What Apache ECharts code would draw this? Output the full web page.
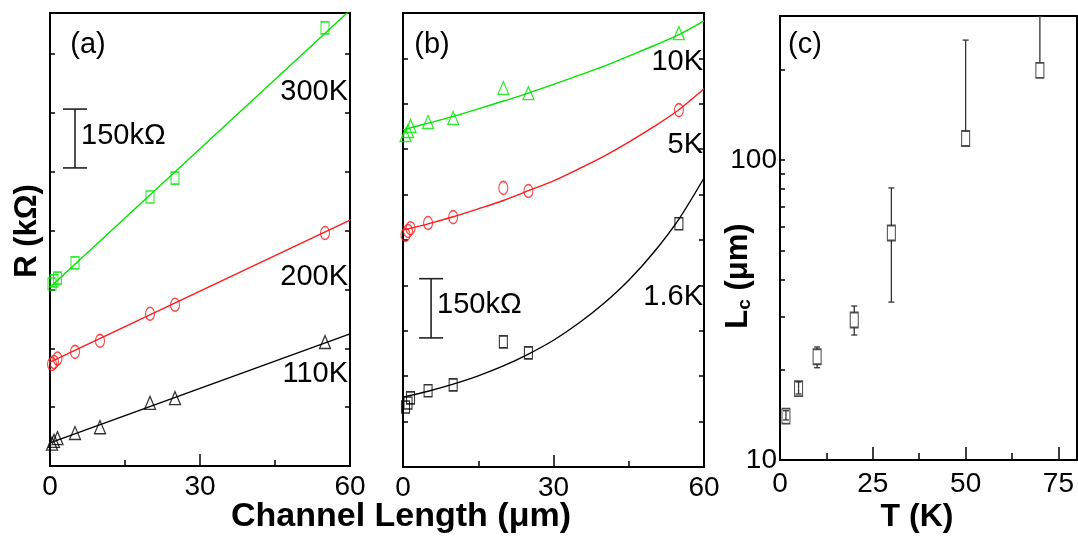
<!DOCTYPE html>
<html>
<head>
<meta charset="utf-8">
<script src="https://cdn.jsdelivr.net/npm/echarts@6/dist/echarts.min.js"></script>
<style>
  html, body { margin: 0; padding: 0; background: #fff; }
  #chart { width: 1078px; height: 538px; }
</style>
</head>
<body>
<div id="chart"></div>
<script>
// ---- (a) resistance vs channel length at high temperature (kΩ) ----
const lenA300 = [0.4, 0.8, 1.5, 5, 20, 25, 55];
const r300K = [464, 472, 479, 518, 686, 734, 1117];
const lenA = [0.4, 0.8, 1.5, 5, 10, 20, 25, 55];
const r200K = [260, 265, 274, 291, 319, 388, 411, 594];
const r110K = [57, 64, 71, 84, 99, 161, 173, 316];
// linear fits
const fitLenA = [0, 60];
const fit300K = [456, 1162];
const fit200K = [265, 627];
const fit110K = [59, 337];

// ---- (b) resistance vs channel length at low temperature (kΩ) ----
const lenB = [0.5, 1, 1.5, 5, 10, 20, 25, 55];
const r10K = [841, 851, 864, 874, 884, 960, 947, 1099];
const r5K = [588, 598, 605, 618, 633, 707, 699, 904];
const r1p6K = [152, 162, 175, 193, 208, 317, 289, 616];
// fitted curves
const fitLenB = [0, 5, 10, 15, 20, 25, 30, 35, 40, 45, 50, 55, 60];
const fit10K = [854, 871, 888, 907, 927, 947, 969, 992, 1015, 1041, 1067, 1095, 1130];
const fit5K = [600, 616, 634, 654, 675, 700, 725, 755, 787, 823, 862, 905, 958];
const fit1p6K = [177, 192, 210, 231, 256, 286, 321, 364, 414, 473, 544, 628, 732];

// scale bars: [length position, low R, high R]
const scaleBarA = [5, 760, 910];
const scaleBarB = [5.6, 327, 477];

// ---- (c) characteristic length vs temperature ----
const temps = [1.6, 5, 10, 20, 30, 50, 70];
const lc = [14.0, 17.3, 22.1, 29.3, 57.1, 118, 199];
const lcLow = [13.6, 16.6, 20.3, 26.1, 33.6, null, null];
const lcHigh = [14.6, 18.2, 23.8, 32.6, 80.7, 251, 302];

// tick labels
const ticksA = [0, 30, 60];
const ticksC = [0, 25, 50, 75];
const minorTicksC = [12.5, 37.5, 62.5];
const logLabelsC = [10, 100];
const logTicksC = [20, 30, 40, 50, 60, 70, 80, 90, 100, 200];

const FONT = '"Liberation Sans", Arial, Helvetica, sans-serif';
const GREEN = '#00e400';
const RED = '#ff1a1a';
const BLACK = '#000000';

const zip = (xs, ys) => xs.map((x, i) => [x, ys[i]]);

function frameX(gridIndex, max, position) {
  return {
    gridIndex, type: 'value', min: 0, max, position,
    axisLine: { show: true, onZero: false, lineStyle: { color: '#000', width: 2 } },
    axisTick: { show: false }, axisLabel: { show: false },
    splitLine: { show: false }
  };
}
function bottomLinearX(gridIndex) {
  return {
    gridIndex, type: 'value', min: 0, max: 60, interval: 30, position: 'bottom',
    axisLine: { show: true, onZero: false, lineStyle: { color: '#000', width: 2 } },
    axisTick: { show: true, inside: true, length: 12, lineStyle: { color: '#000', width: 1.5 } },
    minorTick: { show: true, splitNumber: 2, length: 6, lineStyle: { color: '#000', width: 1.5 } },
    axisLabel: { show: true, fontFamily: FONT, fontSize: 28, color: '#000', margin: 7,
      customValues: ticksA },
    splitLine: { show: false }, minorSplitLine: { show: false }
  };
}
function tickY(gridIndex, max, interval, position) {
  return {
    gridIndex, type: 'value', min: 0, max, interval, position,
    axisLine: { show: true, onZero: false, lineStyle: { color: '#000', width: 2 } },
    axisTick: { show: true, inside: true, length: 5, lineStyle: { color: '#000', width: 1.5 } },
    axisLabel: { show: false }, splitLine: { show: false }
  };
}

function scatter(name, xi, yi, data, symbol, size, color) {
  return {
    name, type: 'scatter', xAxisIndex: xi, yAxisIndex: yi, data,
    symbol, symbolSize: size, z: 4,
    itemStyle: { color: 'rgba(0,0,0,0)', borderColor: color, borderWidth: 1.3 },
    emphasis: { disabled: true }
  };
}
function fitLine(name, xi, yi, data, color, smooth) {
  return {
    name, type: 'line', xAxisIndex: xi, yAxisIndex: yi, data, smooth,
    showSymbol: false, symbol: 'none', clip: true, z: 3,
    lineStyle: { color, width: 1.4 }, emphasis: { disabled: true }
  };
}
function scaleBar(xi, yi, bar) {
  return {
    type: 'custom', xAxisIndex: xi, yAxisIndex: yi, data: [bar], z: 5,
    encode: { x: 0, y: 1 },
    renderItem(params, api) {
      const x = api.value(0), lo = api.value(1), hi = api.value(2);
      const pLo = api.coord([x, lo]);
      const pHi = api.coord([x, hi]);
      const cap = 12;
      const st = { stroke: '#222', lineWidth: 1.6 };
      return {
        type: 'group',
        children: [
          { type: 'line', shape: { x1: pLo[0], y1: pLo[1], x2: pHi[0], y2: pHi[1] }, style: st },
          { type: 'line', shape: { x1: pLo[0] - cap, y1: pLo[1], x2: pLo[0] + cap, y2: pLo[1] }, style: st },
          { type: 'line', shape: { x1: pHi[0] - cap, y1: pHi[1], x2: pHi[0] + cap, y2: pHi[1] }, style: st },
          { type: 'text', x: pLo[0] + 6, y: (pLo[1] + pHi[1]) / 2 - 3,
            style: { text: (hi - lo) + 'kΩ', font: '29px ' + FONT, fill: '#000',
              textAlign: 'left', textVerticalAlign: 'middle', align: 'left', verticalAlign: 'middle' } }
        ]
      };
    }
  };
}

function label(text, x, y, align, size) {
  return {
    type: 'text', x, y, silent: true,
    style: { text, font: (size || 29) + 'px ' + FONT, fill: '#000',
      textAlign: align, textVerticalAlign: 'middle', align, verticalAlign: 'middle' }
  };
}
function title(text, x, y, size, rotation) {
  return {
    type: 'text', x, y, rotation: rotation || 0, silent: true,
    style: { text, font: 'bold ' + size + 'px ' + FONT, fill: '#000',
      textAlign: 'center', textVerticalAlign: 'middle', align: 'center', verticalAlign: 'middle' }
  };
}

const errData = temps.map((t, i) => [t, lc[i], lcLow[i], lcHigh[i]]);

const option = {
  animation: false,
  backgroundColor: '#fff',
  grid: [
    { left: 50, top: 13, width: 300, height: 453 },
    { left: 403, top: 13, width: 301, height: 454 },
    { left: 780, top: 16, width: 297, height: 444 }
  ],
  xAxis: [
    bottomLinearX(0),
    frameX(0, 60, 'top'),
    bottomLinearX(1),
    frameX(1, 60, 'top'),
    {
      gridIndex: 2, type: 'value', min: 0, max: 80, interval: 25, position: 'bottom',
      axisLine: { show: true, onZero: false, lineStyle: { color: '#000', width: 2 } },
      axisTick: { show: true, inside: true, length: 13, customValues: ticksC,
        lineStyle: { color: '#000', width: 1.5 } },
      axisLabel: { show: true, fontFamily: FONT, fontSize: 28, color: '#000', margin: 10,
        customValues: ticksC },
      splitLine: { show: false }
    },
    {
      gridIndex: 2, type: 'value', min: 0, max: 80, position: 'bottom',
      axisLine: { show: false, onZero: false },
      axisTick: { show: true, inside: true, length: 7, customValues: minorTicksC,
        lineStyle: { color: '#000', width: 1.5 } },
      axisLabel: { show: false }, splitLine: { show: false }
    },
    frameX(2, 80, 'top')
  ],
  yAxis: [
    tickY(0, 1155, 150, 'left'),
    tickY(0, 1155, 150, 'right'),
    tickY(1, 1150, 115, 'left'),
    tickY(1, 1150, 115, 'right'),
    {
      gridIndex: 2, type: 'log', logBase: 10, min: 10, max: 302, position: 'left',
      axisLine: { show: true, onZero: false, lineStyle: { color: '#000', width: 2 } },
      axisTick: { show: true, inside: true, length: 5, customValues: logTicksC,
        lineStyle: { color: '#000', width: 1.5 } },
      axisLabel: { show: true, fontFamily: FONT, fontSize: 28, color: '#000', margin: 3,
        customValues: logLabelsC },
      splitLine: { show: false }, minorTick: { show: false }
    },
    {
      gridIndex: 2, type: 'log', logBase: 10, min: 10, max: 302, position: 'right',
      axisLine: { show: true, onZero: false, lineStyle: { color: '#000', width: 2 } },
      axisTick: { show: false }, axisLabel: { show: false }, splitLine: { show: false }
    }
  ],
  series: [
    // (a)
    fitLine('300K fit', 0, 0, zip(fitLenA, fit300K), GREEN, false),
    fitLine('200K fit', 0, 0, zip(fitLenA, fit200K), RED, false),
    fitLine('110K fit', 0, 0, zip(fitLenA, fit110K), BLACK, false),
    scatter('300K', 0, 0, zip(lenA300, r300K), 'rect', [8, 12], GREEN),
    scatter('200K', 0, 0, zip(lenA, r200K), 'circle', [9, 13], RED),
    scatter('110K', 0, 0, zip(lenA, r110K), 'triangle', [11, 13], BLACK),
    scaleBar(0, 0, scaleBarA),
    // (b)
    fitLine('10K fit', 2, 2, zip(fitLenB, fit10K), GREEN, 0.3),
    fitLine('5K fit', 2, 2, zip(fitLenB, fit5K), RED, 0.3),
    fitLine('1.6K fit', 2, 2, zip(fitLenB, fit1p6K), BLACK, 0.3),
    scatter('10K', 2, 2, zip(lenB, r10K), 'triangle', [11, 13], GREEN),
    scatter('5K', 2, 2, zip(lenB, r5K), 'circle', [9, 13], RED),
    scatter('1.6K', 2, 2, zip(lenB, r1p6K), 'rect', [8, 12], BLACK),
    scaleBar(2, 2, scaleBarB),
    // (c)
    {
      type: 'custom', xAxisIndex: 4, yAxisIndex: 4, data: errData, clip: true, z: 3,
      encode: { x: 0, y: 1 },
      renderItem(params, api) {
        const x = api.value(0), v = api.value(1), lo = api.value(2), hi = api.value(3);
        const c = api.coord([x, v]);
        const halfBox = 7.5, cap = 3;
        const children = [];
        const seg = (x1, y1, x2, y2) => children.push({
          type: 'line', shape: { x1, y1, x2, y2 }, style: { stroke: '#333', lineWidth: 1.3 }
        });
        if (isFinite(hi) && hi > 0) {
          const yH = api.coord([x, hi])[1];
          seg(c[0], yH < c[1] - halfBox ? c[1] - halfBox : c[1], c[0], yH);
          seg(c[0] - cap, yH, c[0] + cap, yH);
        }
        if (isFinite(lo) && lo > 0) {
          const yL = api.coord([x, lo])[1];
          seg(c[0], yL > c[1] + halfBox ? c[1] + halfBox : c[1], c[0], yL);
          seg(c[0] - cap, yL, c[0] + cap, yL);
        }
        return { type: 'group', children };
      }
    },
    {
      name: 'Lc', type: 'scatter', xAxisIndex: 4, yAxisIndex: 4, data: zip(temps, lc),
      symbol: 'rect', symbolSize: [8, 15], z: 4,
      itemStyle: { color: 'rgba(0,0,0,0)', borderColor: '#222', borderWidth: 1.4 },
      emphasis: { disabled: true }
    }
  ],
  graphic: [
    label('(a)', 88, 45, 'center'),
    label('(b)', 432, 45, 'center'),
    label('(c)', 805, 45, 'center'),
    label('300K', 348, 92, 'right'),
    label('200K', 348, 277, 'right'),
    label('110K', 348, 374, 'right'),
    label('10K', 703, 62, 'right'),
    label('5K', 703, 145, 'right'),
    label('1.6K', 703, 297, 'right'),
    title('R (kΩ)', 27, 231, 31, Math.PI / 2),
    title('Channel Length (μm)', 401, 517, 34, 0),
    title('T (K)', 917, 517, 32, 0),
    {
      type: 'text', x: 737, y: 276, rotation: Math.PI / 2, silent: true,
      style: {
        text: '{m|L}{s|c}{m| (μm)}',
        textAlign: 'center', textVerticalAlign: 'middle', align: 'center', verticalAlign: 'middle',
        fill: '#000',
        rich: {
          m: { font: 'bold 31px ' + FONT, fill: '#000', lineHeight: 34, verticalAlign: 'bottom' },
          s: { font: 'bold 19px ' + FONT, fill: '#000', lineHeight: 26, verticalAlign: 'bottom' }
        }
      }
    }
  ]
};

const chart = echarts.init(document.getElementById('chart'), null, { renderer: 'canvas' });
chart.setOption(option);
</script>
</body>
</html>
